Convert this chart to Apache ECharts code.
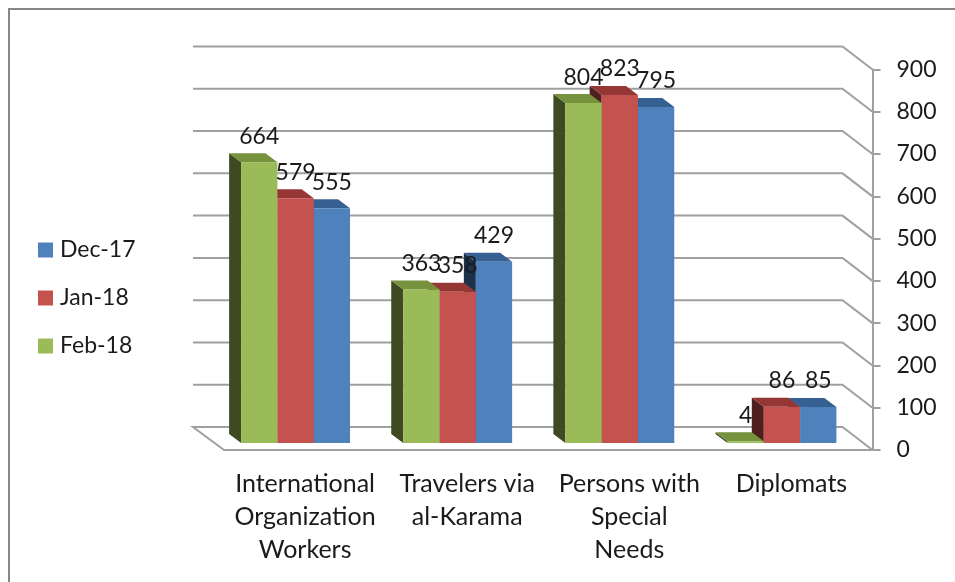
<!DOCTYPE html>
<html>
<head>
<meta charset="utf-8">
<style>
html, body { margin: 0; padding: 0; background: #fff; }
#main { width: 955px; height: 582px; }
</style>
<script src="https://cdn.jsdelivr.net/npm/echarts@6/dist/echarts.min.js"></script>
</head>
<body>
<div id="main"></div>
<script>
var categories = ['International\nOrganization\nWorkers', 'Travelers via\nal-Karama', 'Persons with\nSpecial\nNeeds', 'Diplomats'];
var dec17 = [555, 429, 795, 85];
var jan18 = [579, 358, 823, 86];
var feb18 = [664, 363, 804, 4];
var yTicks = [0, 100, 200, 300, 400, 500, 600, 700, 800, 900];

var FONT = 'Lato';
var TEXT = '#1a1a1a';
var GRID = '#a0a0a0';

// fake 3d: how far the wall sits behind the front plane, and the bars inside that depth
var WALL_DX = -31, WALL_DY = -23;
var BAR_W = 36.3;
var BAR_SHIFT_X = -9.5, BAR_SHIFT_Y = -7;
var BAR_DX = -12, BAR_DY = -9;

function wallLine(params, api) {
    var cs = params.coordSys;
    var y = api.coord([0, api.value(1)])[1];
    var right = cs.x + cs.width;
    var pts = [[cs.x + WALL_DX, y + WALL_DY], [right + WALL_DX + 1, y + WALL_DY], [right, y]];
    if (api.value(1) === 0) {
        // floor edge on the left side
        pts = [[cs.x, y]].concat(pts);
    }
    return {
        type: 'polyline',
        shape: { points: pts },
        style: { stroke: GRID, lineWidth: 2, fill: null }
    };
}

function bar3d(slot, front, top, side) {
    return function (params, api) {
        var cat = api.value(0);
        var c = api.coord([cat, api.value(1)]);
        var base = api.coord([cat, 0]);
        var x0 = c[0] + BAR_SHIFT_X + (slot - 1.5) * BAR_W;
        var x1 = x0 + BAR_W;
        var yt = c[1] + BAR_SHIFT_Y;
        var yb = base[1] + BAR_SHIFT_Y;
        return {
            type: 'group',
            children: [
                {
                    type: 'polygon',
                    shape: { points: [[x0, yt], [x0 + BAR_DX, yt + BAR_DY], [x0 + BAR_DX, yb + BAR_DY], [x0, yb]] },
                    style: { fill: side }
                },
                {
                    type: 'polygon',
                    shape: { points: [[x0, yt], [x0 + BAR_DX, yt + BAR_DY], [x1 + BAR_DX, yt + BAR_DY], [x1, yt]] },
                    style: { fill: top }
                },
                {
                    type: 'rect',
                    shape: { x: x0, y: yt, width: BAR_W, height: yb - yt },
                    style: { fill: front }
                }
            ]
        };
    };
}

function valueLabel(slot) {
    return function (params, api) {
        var c = api.coord([api.value(0), api.value(1)]);
        return {
            type: 'text',
            style: {
                x: c[0] + BAR_SHIFT_X + (slot - 1) * BAR_W,
                y: c[1] + BAR_SHIFT_Y - 26,
                text: String(api.value(1)),
                fill: TEXT,
                font: '23px ' + FONT,
                align: 'center',
                verticalAlign: 'middle'
            }
        };
    };
}

function pairs(values) {
    return values.map(function (v, i) { return [i, v]; });
}

function barSeries(name, values, slot, front, top, side) {
    return {
        name: name,
        type: 'custom',
        renderItem: bar3d(slot, front, top, side),
        encode: { x: 0, y: 1 },
        itemStyle: { color: front },
        data: pairs(values),
        z: 3
    };
}

function labelSeries(values, slot) {
    return {
        type: 'custom',
        renderItem: valueLabel(slot),
        encode: { x: 0, y: 1 },
        data: pairs(values),
        silent: true,
        z: 5
    };
}

var chart = echarts.init(document.getElementById('main'), null, { renderer: 'canvas' });
chart.setOption({
    animation: false,
    backgroundColor: '#fff',
    textStyle: { fontFamily: FONT },
    graphic: [{
        type: 'polyline',
        shape: { points: [[9, 582], [9, 9], [955, 9]] },
        style: { stroke: '#868686', lineWidth: 2, fill: null },
        silent: true
    }],
    legend: {
        orient: 'vertical',
        left: 33,
        top: 231,
        itemWidth: 15,
        itemHeight: 15,
        itemGap: 20,
        icon: 'rect',
        data: ['Dec-17', 'Jan-18', 'Feb-18'],
        textStyle: { fontFamily: FONT, fontSize: 23, color: TEXT, padding: [0, 0, 0, 2], lineHeight: 28 }
    },
    grid: { left: 224, right: 82.5, top: 69.5, bottom: 132 },
    xAxis: {
        type: 'category',
        data: categories,
        boundaryGap: true,
        axisLine: { lineStyle: { color: GRID, width: 2 } },
        axisTick: { length: 8, lineStyle: { color: GRID, width: 2 } },
        axisLabel: { interval: 0, margin: 17, fontFamily: FONT, fontSize: 25, color: TEXT, lineHeight: 33 }
    },
    yAxis: {
        type: 'value',
        position: 'right',
        min: 0,
        max: 900,
        interval: 100,
        axisLine: { show: true, lineStyle: { color: GRID, width: 2 } },
        axisTick: { show: true, length: 8, lineStyle: { color: GRID, width: 2 } },
        splitLine: { show: false },
        axisLabel: { margin: 24, fontFamily: FONT, fontSize: 23, color: TEXT, lineHeight: 23, padding: [8, 0, 0, 0] }
    },
    series: [
        {
            type: 'custom',
            renderItem: wallLine,
            encode: { x: 0, y: 1 },
            data: yTicks.map(function (v) { return [0, v]; }),
            silent: true,
            z: 1
        },
        barSeries('Dec-17', dec17, 2, '#4f81bd', '#376092', '#1b314c'),
        barSeries('Jan-18', jan18, 1, '#c4524f', '#953735', '#4f1f1e'),
        barSeries('Feb-18', feb18, 0, '#9bbb59', '#76923c', '#3f4a22'),
        labelSeries(dec17, 2),
        labelSeries(jan18, 1),
        labelSeries(feb18, 0)
    ]
});
</script>
</body>
</html>
